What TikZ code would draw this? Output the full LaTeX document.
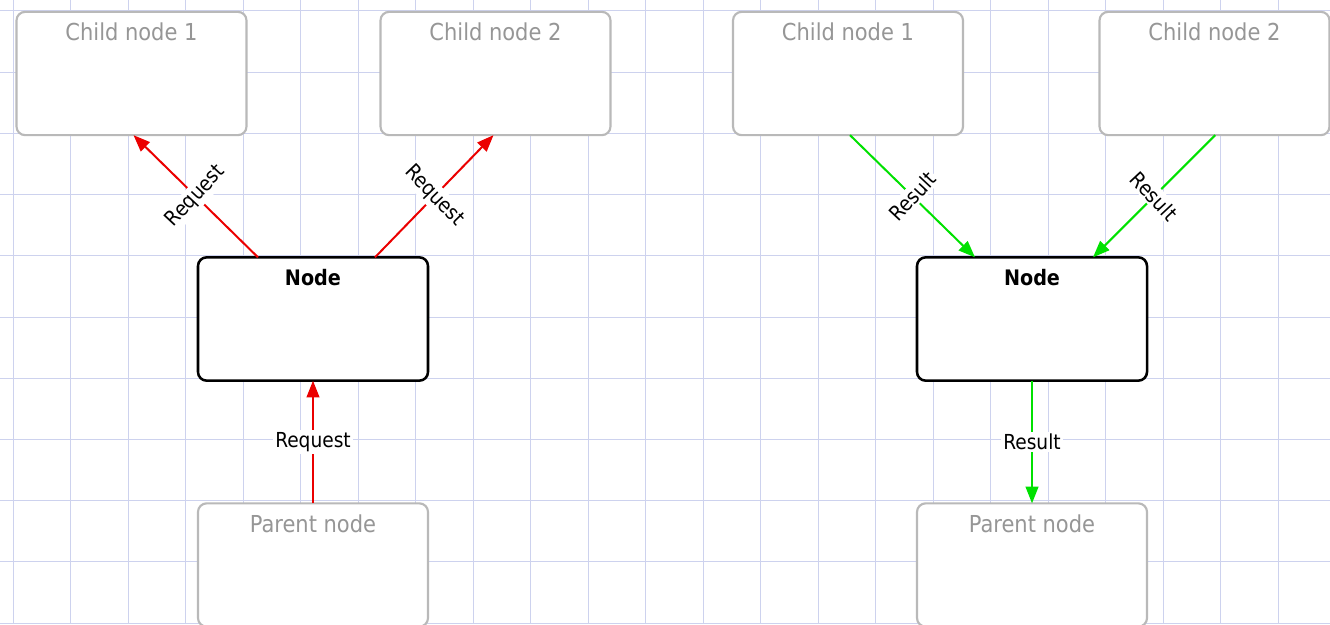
\documentclass[tikz,border=0pt]{standalone}
\usepackage{fontspec}
\setmainfont{DejaVu Sans Condensed}
\usetikzlibrary{arrows.meta}
\definecolor{gridc}{RGB}{205,210,238}
\definecolor{boxgray}{RGB}{185,185,185}
\definecolor{titlegray}{RGB}{150,150,150}
\definecolor{reqred}{RGB}{235,0,0}
\definecolor{resgreen}{RGB}{0,225,0}
\tikzset{
  box/.style={draw, line width=1.6pt, rounded corners=6.5pt, minimum width=172.5pt, minimum height=92.5pt, inner sep=0pt, outer sep=0pt, fill=white},
  faint/.style={box, draw=boxgray},
  main/.style={box, draw=black, line width=1.9pt},
  boxtitle/.style={anchor=center, yshift=-15pt, inner sep=0pt, font=\fontsize{17.5}{19}\selectfont},
  reqarrow/.style={draw=reqred, line width=1.5pt, -{Triangle[length=12.5pt,width=9.5pt]}},
  resarrow/.style={draw=resgreen, line width=1.5pt, -{Triangle[length=12.5pt,width=9.5pt]}},
  lbl/.style={midway, fill=white, inner sep=1.5pt, font=\fontsize{15.5}{17}\selectfont, text=black}
}
\begin{document}
\begin{tikzpicture}[x=0.75pt, y=-0.75pt]
\useasboundingbox (0,0) rectangle (1330,624);
\clip (0,0) rectangle (1330,624);
\fill[white] (0,0) rectangle (1330,624);
\foreach \k in {0,...,22} \draw[gridc, line width=0.75pt] ({13+57.5*\k},0) -- ({13+57.5*\k},624);
\foreach \k in {0,...,10} \draw[gridc, line width=0.75pt] (0,{11+61.2*\k}) -- (1330,{11+61.2*\k});

% left diagram
\node[faint, label={[boxtitle, text=titlegray]north:Child node 1}] (lc1) at (131.5,73.5) {};
\node[faint, label={[boxtitle, text=titlegray]north:Child node 2}] (lc2) at (495.5,73.5) {};
\node[main, label={[boxtitle, font=\fontsize{16}{18}\selectfont\bfseries]north:Node}] (ln) at (313,319) {};
\node[faint, label={[boxtitle, text=titlegray]north:Parent node}] (lp) at (313,565) {};

\draw[reqarrow] ([xshift=-41.25pt]ln.north) -- node[lbl, rotate=47] {Request} ([xshift=1.5pt]lc1.south);
\draw[reqarrow] ([xshift=46.5pt]ln.north) -- node[lbl, rotate=-46] {Request} ([xshift=-1.5pt]lc2.south);
\draw[reqarrow] (lp.north) -- node[lbl] {Request} (ln.south);

% right diagram
\node[faint, label={[boxtitle, text=titlegray]north:Child node 1}] (rc1) at (848,73.5) {};
\node[faint, label={[boxtitle, text=titlegray]north:Child node 2}] (rc2) at (1214.5,73.5) {};
\node[main, label={[boxtitle, font=\fontsize{16}{18}\selectfont\bfseries]north:Node}] (rn) at (1032,319) {};
\node[faint, label={[boxtitle, text=titlegray]north:Parent node}] (rp) at (1032,565) {};

\draw[resarrow] ([xshift=1.5pt]rc1.south) -- node[lbl, rotate=47] {Result} ([xshift=-42.75pt]rn.north);
\draw[resarrow] ([xshift=0.5pt]rc2.south) -- node[lbl, rotate=-47] {Result} ([xshift=45.75pt]rn.north);
\draw[resarrow] (rn.south) -- node[lbl] {Result} (rp.north);
\end{tikzpicture}
\end{document}
